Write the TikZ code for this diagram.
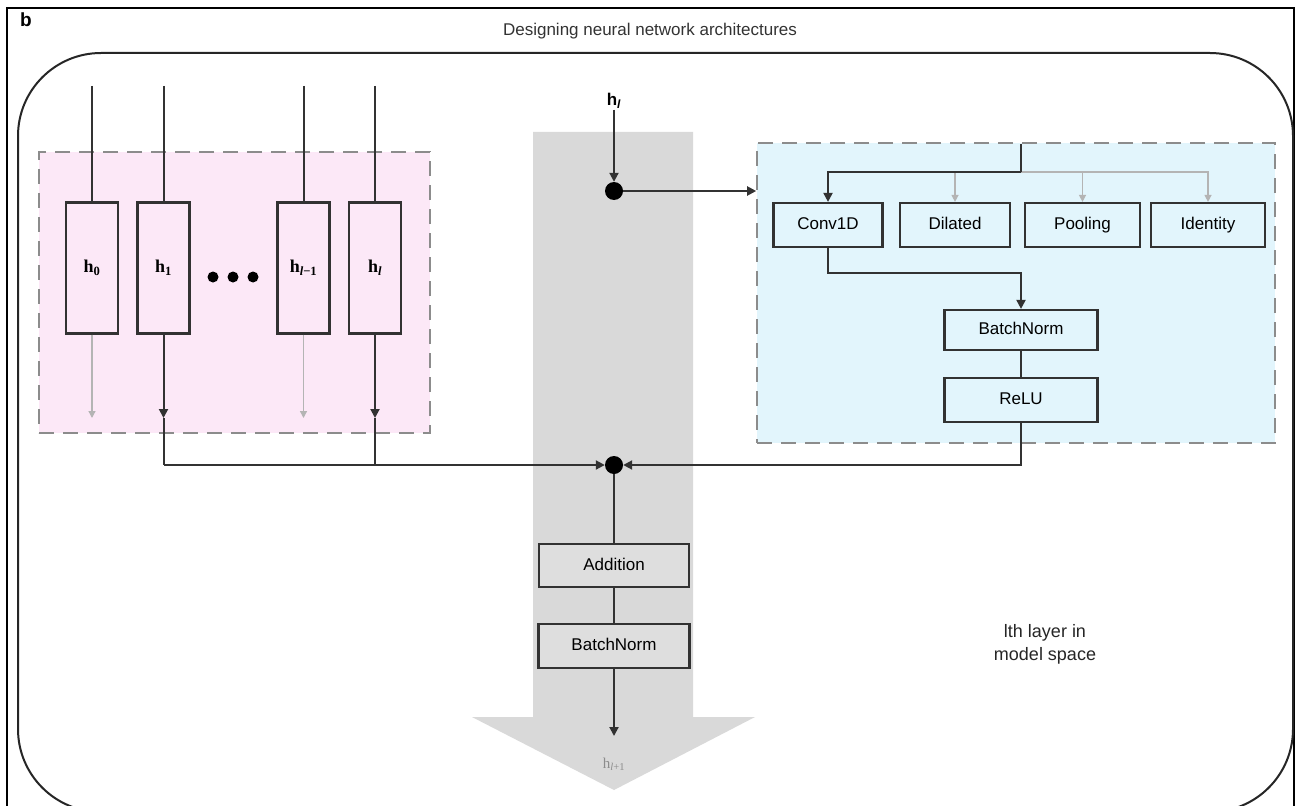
\documentclass[tikz,border=0pt]{standalone}
\usepackage{fontspec}
\setmainfont{Liberation Sans}
\newfontfamily\serifh{Liberation Serif}
\usetikzlibrary{arrows.meta}
\definecolor{pinkbg}{RGB}{252,232,247}
\definecolor{bluebg}{RGB}{226,245,252}
\definecolor{colgray}{RGB}{217,217,217}
\definecolor{boxgray}{RGB}{222,222,222}
\definecolor{linec}{RGB}{50,50,50}
\definecolor{lightarr}{RGB}{180,180,180}
\definecolor{dashc}{RGB}{140,140,140}
\begin{document}
\begin{tikzpicture}[x=1pt,y=-1pt,
  blk/.style={draw=linec,line width=2pt},
  arr/.style={-{Triangle[length=9pt,width=9pt]}},
  lgray/.style={draw=lightarr,line width=1.3pt},
  larr/.style={-{Triangle[length=7pt,width=7pt]}},
  region/.style={draw=dashc,line width=1.6pt,dash pattern=on 15pt off 9pt,inner sep=0pt},
  opbox/.style={draw=linec,line width=2.2pt,inner sep=0pt,minimum height=44pt,text height=12.5pt,text depth=3.5pt,font=\fontsize{17}{20}\selectfont},
  hbox/.style={draw=linec,line width=2.2pt,fill=pinkbg,inner sep=0pt,minimum width=52pt,minimum height=131pt,font=\serifh\bfseries\fontsize{18}{20}\selectfont},
  bigdot/.style={circle,fill=black,inner sep=0pt,minimum size=18pt},
  smalldot/.style={circle,fill=black,inner sep=0pt,minimum size=11pt},
  lbl/.style={inner sep=1pt}
]
\useasboundingbox (0,0) rectangle (1297,805);
\clip (0,0) rectangle (1297,805);
\fill[white] (0,0) rectangle (1297,805);

% outer frame
\draw[line width=2.5pt] (7,806) -- (7,8) -- (1294,8) -- (1294,806);
\node[lbl,font=\bfseries\fontsize{19}{20}\selectfont] (blabel) at (26,20) {b};
\node[lbl,font=\fontsize{17}{20}\selectfont,text=black!80] (title) at (650,31) {Designing neural network architectures};

% rounded container
\draw[line width=2pt,draw=black!85,rounded corners=83pt] (18,53) rectangle (1293,812);

% gray column arrow
\fill[colgray] (533,132) -- (693,132) -- (693,717) -- (755,717) -- (614,790) -- (472,717) -- (533,717) -- cycle;

% regions
\node[region,fill=pinkbg,minimum width=391pt,minimum height=281pt] (pink) at (234.5,292.5) {};
\node[region,fill=bluebg,minimum width=518pt,minimum height=300pt] (bluebox) at (1016,293) {};

% pink h boxes
\node[hbox] (h0) at (92,268) {h\textsubscript{0}};
\node[hbox] (h1) at (163.5,268) {h\textsubscript{1}};
\node[hbox] (hlm) at (303.5,268) {h\textsubscript{\textit{l}−1}};
\node[hbox] (hl) at (375,268) {h\textsubscript{\textit{l}}};
\node[smalldot] (d1) at (213,277) {};
\node[smalldot] (d2) at (233,277) {};
\node[smalldot] (d3) at (253,277) {};

\coordinate (t0) at (92,86);
\coordinate (t1) at (163.5,86);
\coordinate (t2) at (303.5,86);
\coordinate (t3) at (375,86);
\draw[blk] (t0) -- (h0.north);
\draw[blk] (t1) -- (h1.north);
\draw[blk] (t2) -- (hlm.north);
\draw[blk] (t3) -- (hl.north);

\coordinate (a0) at (92,418);
\coordinate (a1) at (163.5,418);
\coordinate (a2) at (303.5,418);
\coordinate (a3) at (375,418);
\draw[lgray,larr] (h0.south) -- (a0);
\draw[lgray,larr] (hlm.south) -- (a2);
\draw[blk,arr] (h1.south) -- (a1);
\draw[blk,arr] (hl.south) -- (a3);

% central nodes
\node[lbl,font=\bfseries\fontsize{17}{18}\selectfont] (hin) at (614,101) {h\textsubscript{\textit{l}}};
\node[bigdot] (topdot) at (614,191) {};
\node[bigdot] (mid) at (614,465) {};
\node[opbox,fill=boxgray,minimum width=150pt,minimum height=43pt] (add) at (614,565.5) {Addition};
\node[opbox,fill=boxgray,minimum width=151pt] (bn2) at (614,646) {BatchNorm};
\coordinate (outtip) at (614,736);
\node[lbl,font=\serifh\fontsize{15}{16}\selectfont,text=black!45] (hout) at (614,764) {h\textsubscript{\textit{l}+1}};

% blue ops
\node[opbox,fill=bluebg,minimum width=109pt] (conv) at (828,225) {Conv1D};
\node[opbox,fill=bluebg,minimum width=110pt] (dil) at (955,225) {Dilated};
\node[opbox,fill=bluebg,minimum width=115pt] (pool) at (1082.5,225) {Pooling};
\node[opbox,fill=bluebg,minimum width=114pt] (ident) at (1208,225) {Identity};
\node[opbox,fill=bluebg,minimum width=153pt,minimum height=40pt] (bn1) at (1021,330) {BatchNorm};
\node[opbox,fill=bluebg,minimum width=153pt] (relu) at (1021,400) {ReLU};

\node[lbl,align=center,font=\fontsize{18}{23}\selectfont,text=black!85] (layer) at (1045,644) {lth layer in\\model space};

% connectors
\draw[blk,arr] (hin) -- (topdot);
\draw[blk,arr] (topdot) -- (topdot -| bluebox.west);

\coordinate (bt) at (1021,144);
\coordinate (bsplit) at (1021,172);
\draw[lgray,larr] (bsplit) -| (ident.north);
\draw[lgray,larr] (bsplit) -| (pool.north);
\draw[lgray,larr] (bsplit) -| (dil.north);
\draw[blk] (bt) -- (bsplit);
\draw[blk,arr] (bsplit) -| (conv.north);

\coordinate (cb) at (828,273);
\draw[blk,arr] (conv.south) -- (cb) -| (bn1.north);
\draw[blk] (bn1) -- (relu);
\draw[blk,arr] (relu.south) |- (mid);

\coordinate (j1) at (163.5,465);
\coordinate (j3) at (375,465);
\draw[blk] (a1) -- (j1);
\draw[blk] (a3) -- (j3);
\draw[blk,arr] (j1) -- (mid);

\draw[blk] (mid) -- (add);
\draw[blk] (add) -- (bn2);
\draw[blk,arr] (bn2.south) -- (outtip);
\end{tikzpicture}
\end{document}
